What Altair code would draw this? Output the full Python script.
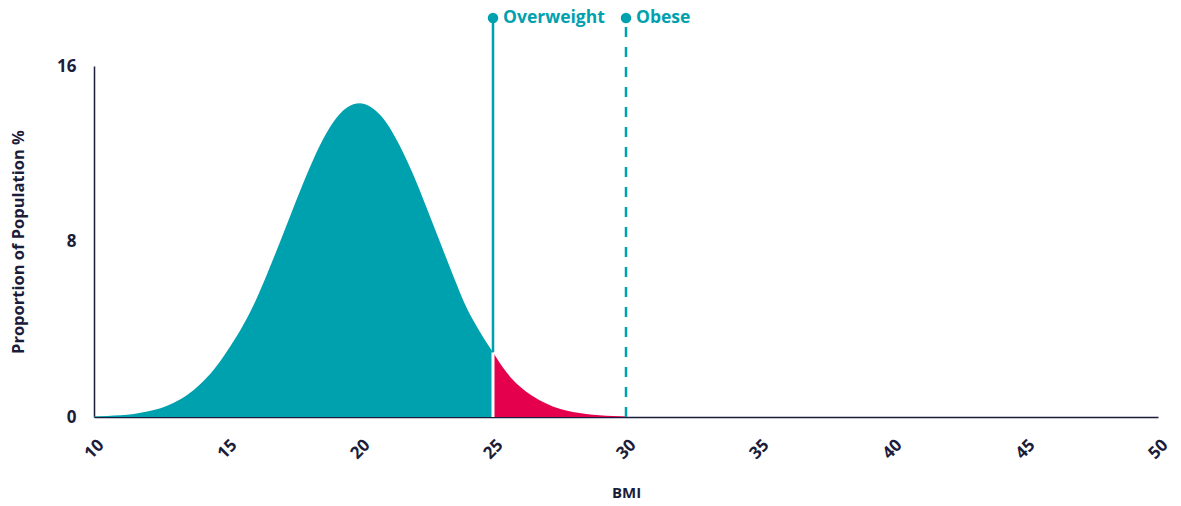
import altair as alt
import pandas as pd

# BMI positions and population share (%)
bmi = [10, 10.5, 11, 11.5, 12, 12.5, 13, 13.5, 14, 14.5, 15, 15.5, 16, 16.5, 17, 17.5,
       18, 18.5, 19, 19.5, 20, 20.5, 21, 21.5, 22, 22.5, 23, 23.5, 24, 24.5, 25,
       25.5, 26, 26.5, 27, 27.5, 28, 28.5, 29, 29.5, 30]
share = [0.02, 0.05, 0.08, 0.14, 0.25, 0.40, 0.65, 1.00, 1.50, 2.15, 3.00, 3.95, 5.10, 6.50,
         8.00, 9.55, 11.05, 12.40, 13.45, 14.10, 14.30, 14.05, 13.40, 12.35, 11.05, 9.55,
         8.00, 6.45, 5.00, 3.90, 2.95, 2.05, 1.40, 0.95, 0.62, 0.38, 0.23, 0.14, 0.08, 0.04, 0.02]

thresholds = [25, 30]
threshold_labels = ["Overweight", "Obese"]
threshold_dash = ["solid", "dashed"]

TEAL = "#00A1AE"
RED = "#E5004E"
NAVY = "#1B1D3A"
FONT = "Open Sans"

df = pd.DataFrame({"bmi": bmi, "share": share})
normal = df[df.bmi <= 25]
over = df[df.bmi >= 25]
share_at_25 = float(df.loc[df.bmi == 25, "share"].iloc[0])

x_scale = alt.Scale(domain=[10, 50], nice=False, zero=False)
y_scale = alt.Scale(domain=[0, 16], nice=False)

x_axis = alt.Axis(values=[10, 15, 20, 25, 30, 35, 40, 45, 50], title="BMI", grid=False, ticks=False,
                  domainColor=NAVY, domainWidth=1.5, labelAngle=315, labelAlign="center",
                  labelBaseline="middle", labelPadding=32, labelFont=FONT, labelFontSize=17,
                  labelFontWeight="bold", labelColor=NAVY, titleFont=FONT, titleFontSize=15,
                  titleFontWeight="bold", titleColor=NAVY, titlePadding=24)
y_axis = alt.Axis(values=[0, 8, 16], title="Proportion of Population %", grid=False, ticks=False,
                  domainColor=NAVY, domainWidth=1.5, labelPadding=18, labelFont=FONT,
                  labelFontSize=17, labelFontWeight="bold", labelColor=NAVY, titleFont=FONT,
                  titleFontSize=16.5, titleFontWeight="bold", titleColor=NAVY, titlePadding=30)

area_normal = alt.Chart(normal).mark_area(color=TEAL, interpolate="monotone").encode(
    x=alt.X("bmi:Q", scale=x_scale, axis=x_axis),
    y=alt.Y("share:Q", scale=y_scale, axis=y_axis),
)
area_over = alt.Chart(over).mark_area(color=RED, interpolate="monotone").encode(
    x=alt.X("bmi:Q", scale=x_scale),
    y=alt.Y("share:Q", scale=y_scale),
)

tdf = pd.DataFrame({"bmi": thresholds, "label": threshold_labels, "dash": threshold_dash})

solid = alt.Chart(tdf[tdf.dash == "solid"]).mark_rule(color=TEAL, strokeWidth=2.5, clip=False).encode(
    x=alt.X("bmi:Q", scale=x_scale),
    y=alt.Y(datum=share_at_25, scale=y_scale),
    y2=alt.value(-48),
)
gap = alt.Chart(tdf[tdf.dash == "solid"]).mark_rule(color="white", strokeWidth=3).encode(
    x=alt.X("bmi:Q", scale=x_scale),
    y=alt.Y(datum=0, scale=y_scale),
    y2=alt.Y2(datum=share_at_25),
)
dashed = alt.Chart(tdf[tdf.dash == "dashed"]).mark_rule(color=TEAL, strokeWidth=2.5,
                                                        strokeDash=[10, 10], clip=False).encode(
    x=alt.X("bmi:Q", scale=x_scale),
    y=alt.Y(datum=0, scale=y_scale),
    y2=alt.value(-48),
)
dots = alt.Chart(tdf).mark_point(filled=True, color=TEAL, size=110, opacity=1, clip=False).encode(
    x=alt.X("bmi:Q", scale=x_scale),
    y=alt.value(-48),
)
labels = alt.Chart(tdf).mark_text(color=TEAL, font=FONT, fontSize=17.5, fontWeight="bold",
                                  align="left", baseline="middle", dx=10, clip=False).encode(
    x=alt.X("bmi:Q", scale=x_scale),
    y=alt.value(-48),
    text="label:N",
)

chart = alt.layer(area_normal, area_over, gap, solid, dashed, dots, labels).properties(
    width=1064, height=351,
    autosize=alt.AutoSizeParams(type="none"),
    padding={"left": 86, "top": 58, "right": 15, "bottom": 88},
).configure_view(stroke=None)

chart.save("out.html", embed_options={"renderer": "svg", "actions": False})
